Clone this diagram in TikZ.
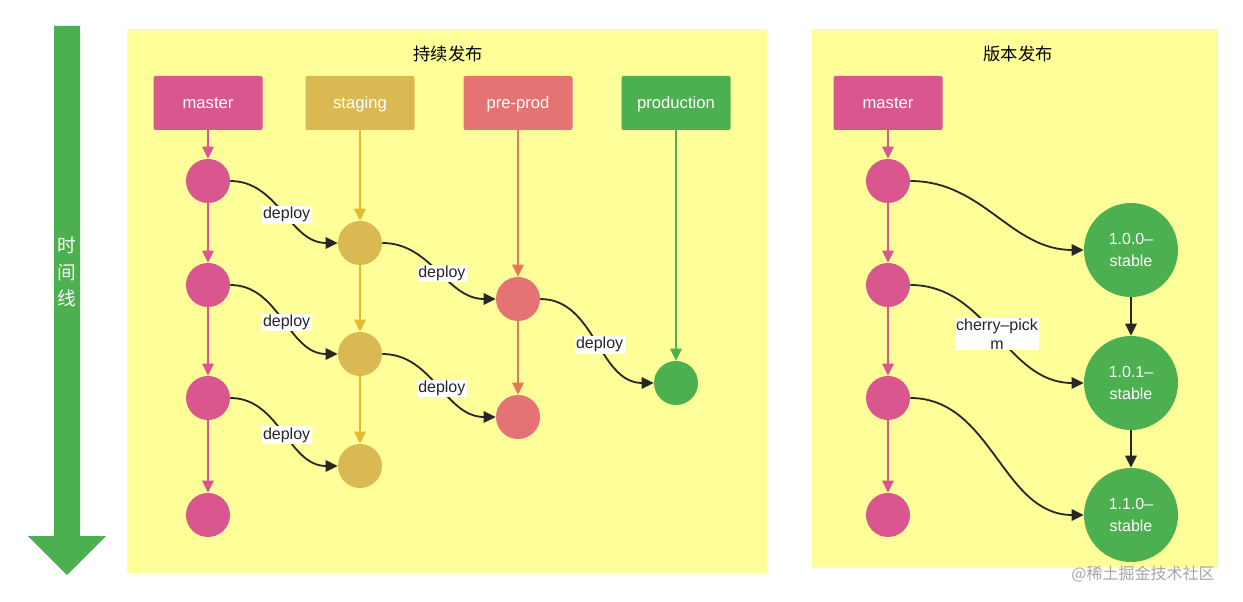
\documentclass[tikz,border=0pt]{standalone}
\usepackage{fontspec}
\setmainfont{Liberation Sans}
\newfontfamily\cjk{Noto Sans CJK SC}
\usepackage{xcolor}
\usepackage{tikz}
\usetikzlibrary{arrows.meta, positioning, calc}

\definecolor{panelyellow}{RGB}{255,255,153}
\definecolor{masterpink}{RGB}{217,86,143}
\definecolor{stagingmustard}{RGB}{219,185,82}
\definecolor{preprodred}{RGB}{229,115,115}
\definecolor{prodgreen}{RGB}{76,175,80}
\definecolor{stagingline}{RGB}{226,186,52}
\definecolor{preprodline}{RGB}{232,118,88}
\definecolor{linkgray}{RGB}{38,38,38}

\begin{document}
\begin{tikzpicture}[
    x=0.75pt, y=-0.75pt,
    branch/.style={rectangle, rounded corners=1.5pt, minimum width=81.75pt, minimum height=40.5pt, text=white, text height=8pt, text depth=0pt, font=\fontsize{12.5}{14}\selectfont},
    commit/.style={circle, minimum size=33pt, inner sep=0pt},
    release/.style={circle, minimum size=70.5pt, inner sep=0pt, fill=prodgreen, text=white, align=center, font=\fontsize{12}{16}\selectfont},
    flow/.style={line width=1.35pt, -{Triangle[length=9pt, width=8.5pt]}},
    link/.style={line width=1.35pt, draw=linkgray, -{Triangle[length=9pt, width=8.5pt]}, out=0, in=180},
    tag/.style={fill=white, inner sep=1pt, text=linkgray, font=\fontsize{12}{14}\selectfont, align=center, pos=0.53},
    title/.style={font=\cjk\fontsize{13}{15}\selectfont}
  ]

    \useasboundingbox[fill=white] (0,0) rectangle (1243,602);

    % Timeline
    \fill[prodgreen] (54,26) -- (80,26) -- (80,536) -- (106,536) -- (67,575) -- (28,536) -- (54,536) -- cycle;
    \node[text=white, align=center, font=\cjk\fontsize{14}{20}\selectfont] (timeline) at (67,272) {时\\间\\线};

    % Continuous delivery
    \fill[panelyellow] (127,29) rectangle (767,573);
    \node[title] (cdtitle) at (448,54) {持续发布};
    \node[branch, fill=masterpink] (master) at (208,103) {master};
    \node[branch, fill=stagingmustard] (staging) at (360,103) {staging};
    \node[branch, fill=preprodred] (preprod) at (518,103) {pre-prod};
    \node[branch, fill=prodgreen] (production) at (676,103) {production};

    \node[commit, fill=masterpink] (m1) at (208,181) {};
    \node[commit, fill=masterpink] (m2) at (208,285) {};
    \node[commit, fill=masterpink] (m3) at (208,398) {};
    \node[commit, fill=masterpink] (m4) at (208,515) {};
    \node[commit, fill=stagingmustard] (s1) at (360,243) {};
    \node[commit, fill=stagingmustard] (s2) at (360,354) {};
    \node[commit, fill=stagingmustard] (s3) at (360,466) {};
    \node[commit, fill=preprodred] (p1) at (518,299) {};
    \node[commit, fill=preprodred] (p2) at (518,417) {};
    \node[commit, fill=prodgreen] (d1) at (676,383) {};

    \draw[flow, masterpink] (master) -- (m1);
    \draw[flow, masterpink] (m1) -- (m2);
    \draw[flow, masterpink] (m2) -- (m3);
    \draw[flow, masterpink] (m3) -- (m4);
    \draw[flow, stagingline] (staging) -- (s1);
    \draw[flow, stagingline] (s1) -- (s2);
    \draw[flow, stagingline] (s2) -- (s3);
    \draw[flow, preprodline] (preprod) -- (p1);
    \draw[flow, preprodline] (p1) -- (p2);
    \draw[flow, prodgreen] (production) -- (d1);

    \draw[link] (m1.east) to node[tag] {deploy} (s1.west);
    \draw[link] (m2.east) to node[tag] {deploy} (s2.west);
    \draw[link] (m3.east) to node[tag] {deploy} (s3.west);
    \draw[link] (s1.east) to node[tag] {deploy} (p1.west);
    \draw[link] (s2.east) to node[tag] {deploy} (p2.west);
    \draw[link] (p1.east) to node[tag] {deploy} (d1.west);

    % Versioned release
    \fill[panelyellow] (812,29) rectangle (1218,568);
    \node[title] (vrtitle) at (1018,54) {版本发布};
    \node[branch, fill=masterpink] (vmaster) at (888,103) {master};

    \node[commit, fill=masterpink] (v1) at (888,181) {};
    \node[commit, fill=masterpink] (v2) at (888,285) {};
    \node[commit, fill=masterpink] (v3) at (888,398) {};
    \node[commit, fill=masterpink] (v4) at (888,515) {};
    \node[release] (r100) at (1131,250) {1.0.0–\\stable};
    \node[release] (r101) at (1131,383) {1.0.1–\\stable};
    \node[release] (r110) at (1131,515) {1.1.0–\\stable};

    \draw[flow, masterpink] (vmaster) -- (v1);
    \draw[flow, masterpink] (v1) -- (v2);
    \draw[flow, masterpink] (v2) -- (v3);
    \draw[flow, masterpink] (v3) -- (v4);
    \draw[flow, linkgray] (r100) -- (r101);
    \draw[flow, linkgray] (r101) -- (r110);

    \draw[link] (v1.east) to (r100.west);
    \draw[link] (v2.east) to node[tag, pos=0.5] {cherry–pick\\m} (r101.west);
    \draw[link] (v3.east) to (r110.west);

    % Watermark
    \node[text=gray!70, font=\cjk\fontsize{12}{14}\selectfont] (mark) at (1143,574) {@稀土掘金技术社区};

  \end{tikzpicture}
\end{document}
